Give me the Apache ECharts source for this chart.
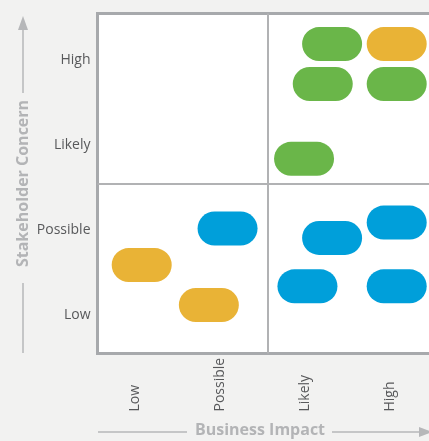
<!DOCTYPE html>
<html>
<head>
<meta charset="utf-8">
<script src="https://cdn.jsdelivr.net/npm/echarts@6/dist/echarts.min.js"></script>
<style>
  html, body { margin: 0; padding: 0; background: #f2f2f1; }
  #chart { width: 429px; height: 441px; }
</style>
</head>
<body>
<div id="chart"></div>
<script>
// Axis categories
const impactLabels = ['Low', 'Possible', 'Likely', 'High'];
const concernLabels = ['Low', 'Possible', 'Likely', 'High'];

// Risk items, positioned on a 0–4 scale (Business Impact, Stakeholder Concern)
const greenImpact = [2.76, 2.65, 3.52, 2.43];
const greenConcern = [3.64, 3.17, 3.17, 2.29];

const orangeImpact = [3.52, 0.52, 1.31];
const orangeConcern = [3.64, 1.04, 0.57];

const blueImpact = [1.53, 2.76, 3.52, 2.47, 3.52];
const blueConcern = [1.47, 1.36, 1.54, 0.79, 0.79];

const PILL_W = 60, PILL_H = 34;
const lineGray = '#b6b7b9';
const titleGray = '#b3b4b6';
const tickText = { color: '#58595b', fontSize: 14, fontFamily: 'Open Sans' };

function pairs(xs, ys) { return xs.map((x, i) => [x, ys[i]]); }

function pillSeries(name, color, xs, ys) {
  return {
    name: name,
    type: 'custom',
    xAxisIndex: 1,
    yAxisIndex: 1,
    data: pairs(xs, ys),
    renderItem: function (params, api) {
      const p = api.coord([api.value(0), api.value(1)]);
      return {
        type: 'rect',
        shape: { x: p[0] - PILL_W / 2, y: p[1] - PILL_H / 2, width: PILL_W, height: PILL_H, r: PILL_H / 2 },
        style: { fill: color }
      };
    }
  };
}

const chart = echarts.init(document.getElementById('chart'), null, { renderer: 'canvas' });

const series = [
  pillSeries('green', '#6ab649', greenImpact, greenConcern),
  pillSeries('orange', '#e9b336', orangeImpact, orangeConcern),
  pillSeries('blue', '#009fda', blueImpact, blueConcern)
];
// Quadrant dividers
series[0].markLine = {
  silent: true,
  symbol: 'none',
  label: { show: false },
  lineStyle: { color: '#b1b2b4', width: 2, type: 'solid' },
  data: [{ xAxis: 2 }, { yAxis: 2 }]
};

chart.setOption({
  backgroundColor: '#f2f2f1',
  animation: false,
  grid: {
    left: 97.5, top: 13.5, width: 340, height: 340,
    containLabel: false,
    outerBoundsMode: 'none',
    show: true, backgroundColor: '#ffffff',
    borderColor: '#a7a9ac', borderWidth: 3
  },
  xAxis: [
    {
      type: 'category',
      data: impactLabels,
      position: 'bottom',
      boundaryGap: true,
      axisLine: { show: false },
      axisTick: { show: false },
      splitLine: { show: false },
      axisLabel: {
        rotate: 90, align: 'left', margin: 58,
        formatter: v => '{t|' + v + '}',
        rich: { t: Object.assign({ padding: [0, 0, 9, 0] }, tickText) }
      },
      name: 'Business Impact',
      nameLocation: 'middle',
      nameGap: 69,
      nameMoveOverlap: false,
      nameTextStyle: {
        color: titleGray, fontSize: 16, fontWeight: 'bold', fontFamily: 'Open Sans',
        padding: [0, 15, 0, 0]
      }
    },
    {
      type: 'value', min: 0, max: 4, interval: 1,
      show: false
    }
  ],
  yAxis: [
    {
      type: 'category',
      data: concernLabels,
      boundaryGap: true,
      axisLine: { show: false },
      axisTick: { show: false },
      splitLine: { show: false },
      axisLabel: {
        margin: 7,
        formatter: v => '{t|' + v + '}',
        rich: { t: Object.assign({ padding: [8, 0, 0, 0] }, tickText) }
      },
      name: 'Stakeholder Concern',
      nameLocation: 'middle',
      nameGap: 66,
      nameMoveOverlap: false,
      nameTextStyle: {
        color: titleGray, fontSize: 16, fontWeight: 'bold', fontFamily: 'Open Sans'
      }
    },
    {
      type: 'value', min: 0, max: 4, interval: 1,
      show: false
    }
  ],
  graphic: [
    // vertical title arrow
    { type: 'line', shape: { x1: 23, y1: 93, x2: 23, y2: 26 }, style: { stroke: lineGray, lineWidth: 1.5 }, silent: true },
    { type: 'polygon', shape: { points: [[23, 16], [18, 30], [28, 30]] }, style: { fill: lineGray }, silent: true },
    { type: 'line', shape: { x1: 23, y1: 283, x2: 23, y2: 353 }, style: { stroke: lineGray, lineWidth: 1.5 }, silent: true },
    // horizontal title arrow
    { type: 'line', shape: { x1: 98, y1: 432, x2: 187, y2: 432 }, style: { stroke: lineGray, lineWidth: 1.5 }, silent: true },
    { type: 'line', shape: { x1: 332, y1: 432, x2: 424, y2: 432 }, style: { stroke: lineGray, lineWidth: 1.5 }, silent: true },
    { type: 'polygon', shape: { points: [[432, 432], [419, 427], [419, 437]] }, style: { fill: lineGray }, silent: true }
  ],
  series: series
});
</script>
</body>
</html>
